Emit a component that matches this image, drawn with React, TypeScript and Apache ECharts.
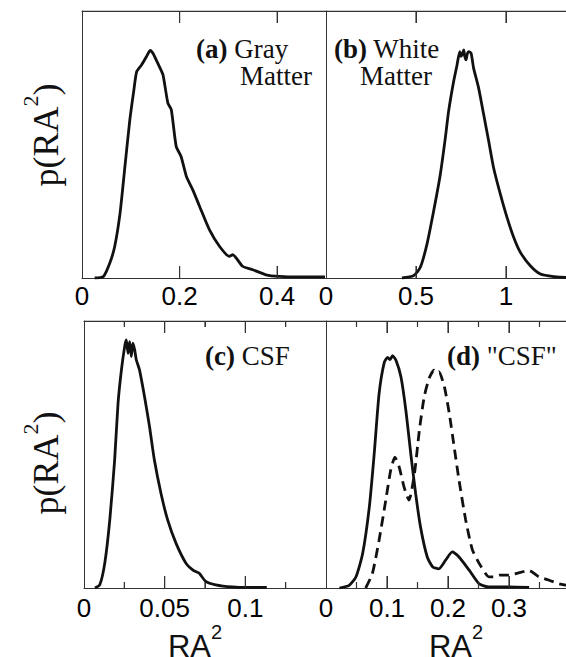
import React, { useEffect, useRef } from "react";
import * as echarts from "echarts";

// (a) Gray matter
const grayX = [0.026, 0.044, 0.057, 0.067, 0.078, 0.088, 0.098, 0.106, 0.112, 0.122, 0.132, 0.140, 0.146, 0.152, 0.159, 0.166, 0.176, 0.183, 0.193, 0.203, 0.214, 0.227, 0.241, 0.261, 0.282, 0.302, 0.309, 0.329, 0.350, 0.377, 0.404, 0.445, 0.498];
const grayY = [0, 0.006, 0.056, 0.118, 0.243, 0.418, 0.592, 0.70, 0.773, 0.798, 0.829, 0.852, 0.84, 0.817, 0.79, 0.761, 0.655, 0.630, 0.493, 0.455, 0.380, 0.330, 0.268, 0.181, 0.118, 0.081, 0.087, 0.044, 0.031, 0.012, 0.006, 0.004, 0.004];

// (b) White matter
const whiteX = [0.422, 0.487, 0.524, 0.561, 0.598, 0.635, 0.663, 0.681, 0.709, 0.728, 0.743, 0.750, 0.756, 0.765, 0.771, 0.778, 0.785, 0.793, 0.806, 0.820, 0.848, 0.876, 0.904, 0.931, 0.969, 1.006, 1.043, 1.080, 1.135, 1.191, 1.265, 1.335, 1.40];
const whiteY = [0, 0.009, 0.04, 0.127, 0.251, 0.388, 0.525, 0.624, 0.736, 0.798, 0.848, 0.83, 0.836, 0.854, 0.83, 0.817, 0.84, 0.848, 0.842, 0.786, 0.711, 0.612, 0.512, 0.413, 0.313, 0.226, 0.152, 0.096, 0.046, 0.015, 0.005, 0.002, 0.002];

// (c) CSF
const csfX = [0.0068, 0.0098, 0.0129, 0.016, 0.019, 0.0211, 0.0232, 0.0252, 0.0262, 0.0273, 0.0283, 0.0293, 0.0303, 0.0314, 0.0324, 0.0344, 0.0375, 0.0406, 0.0436, 0.0477, 0.0518, 0.057, 0.0631, 0.068, 0.0713, 0.0754, 0.0816, 0.0918, 0.102, 0.1133];
const csfY = [0, 0.012, 0.094, 0.256, 0.48, 0.692, 0.817, 0.904, 0.929, 0.879, 0.923, 0.867, 0.917, 0.892, 0.855, 0.817, 0.717, 0.605, 0.48, 0.355, 0.256, 0.168, 0.094, 0.065, 0.056, 0.025, 0.012, 0.004, 0.002, 0.002];

// (d) "CSF" solid
const dSolidX = [0.022, 0.038, 0.049, 0.060, 0.071, 0.079, 0.087, 0.0955, 0.101, 0.105, 0.109, 0.115, 0.123, 0.131, 0.139, 0.147, 0.155, 0.166, 0.175, 0.185, 0.196, 0.207, 0.218, 0.235, 0.251, 0.267, 0.295, 0.333];
const dSolidY = [0, 0.01, 0.041, 0.128, 0.303, 0.502, 0.727, 0.845, 0.864, 0.855, 0.87, 0.851, 0.789, 0.664, 0.502, 0.353, 0.228, 0.116, 0.079, 0.072, 0.104, 0.135, 0.116, 0.066, 0.016, 0.004, 0.004, 0.002];

// (d) "CSF" dashed
const dDashX = [0.065, 0.076, 0.087, 0.098, 0.106, 0.113, 0.120, 0.128, 0.136, 0.145, 0.153, 0.161, 0.169, 0.177, 0.181, 0.185, 0.194, 0.202, 0.210, 0.218, 0.229, 0.240, 0.254, 0.267, 0.278, 0.284, 0.300, 0.316, 0.333, 0.349, 0.366, 0.382, 0.40];
const dDashY = [0, 0.054, 0.179, 0.329, 0.44, 0.49, 0.453, 0.378, 0.329, 0.428, 0.59, 0.716, 0.785, 0.816, 0.805, 0.81, 0.754, 0.655, 0.53, 0.405, 0.255, 0.143, 0.081, 0.042, 0.042, 0.048, 0.048, 0.057, 0.065, 0.042, 0.029, 0.016, 0.008];

// axis scales per panel (a, b, c, d)
const axisMax = [0.5, 1.4, 0.15, 0.4];
const axisInterval = [0.2, 0.5, 0.05, 0.1];
const hasMinor = [false, false, true, true];
// tick marks on the frame (major / minor) per panel
const majorTicks = [[0.2, 0.4], [0.5, 1.0], [0.05, 0.1], [0.1, 0.2, 0.3]];
const minorTicks = [[], [], [0.025, 0.075, 0.125], [0.05, 0.15, 0.25, 0.35]];

const panelLabel = ["(a)", "(b)", "(c)", "(d)"];
const panelLine1 = [" Gray", " White", " CSF", ' "CSF"'];
const panelLine2 = ["Matter", "Matter", "", ""];

const pairs = (xs: number[], ys: number[]) => xs.map((x, i) => [x, ys[i]]);

const FRAME = "#333333";
const INK = "#111111";

export default function App() {
  const ref = useRef<HTMLDivElement>(null);
  useEffect(() => {
    if (!ref.current) return;
    const chart = echarts.init(ref.current, null, { renderer: "svg" });

    const grids = [
      { left: 82, top: 11, width: 244, height: 267 },
      { left: 326, top: 11, width: 252, height: 267 },
      { left: 84, top: 321, width: 242, height: 267 },
      { left: 326, top: 321, width: 244, height: 267 },
    ].map((g) => ({ ...g, outerBoundsMode: "none" }));
    const labelMargin = [5, 5, 7, 7];

    // x-axis titles "RA²" under panels c and d (padding nudges the centred name)
    const xNameRich = (padL: number, padR: number) => ({
      m: { fontSize: 31, fontFamily: "Liberation Sans", color: INK, verticalAlign: "bottom", padding: [0, 0, 0, padL] },
      s: { fontSize: 20, fontFamily: "Liberation Sans", color: INK, verticalAlign: "bottom", padding: [0, padR, 20, 0] },
    });
    const xNames = [null, null, xNameRich(0, 20), xNameRich(16, 0)];

    const bottomAxes = grids.map((_, i) => ({
      type: "value",
      gridIndex: i,
      position: "bottom",
      min: 0,
      max: axisMax[i],
      interval: axisInterval[i],
      axisLine: { show: true, onZero: false, lineStyle: { color: FRAME, width: 1 } },
      axisTick: { show: true, inside: true, length: 12, lineStyle: { color: FRAME, width: 1 } },
      minorTick: { show: hasMinor[i], splitNumber: 2, length: 6, lineStyle: { color: FRAME, width: 1 } },
      splitLine: { show: false },
      minorSplitLine: { show: false },
      axisLabel: {
        show: true,
        margin: labelMargin[i],
        fontSize: 26,
        fontFamily: "Liberation Sans",
        color: "#000000",
        showMaxLabel: false,
      },
      name: xNames[i] ? "{m|RA}{s|2}" : "",
      nameLocation: "middle",
      nameGap: 31,
      nameTextStyle: xNames[i] ? { rich: xNames[i], color: INK } : {},
    }));
    const topAxes = grids.map((_, i) => ({
      type: "value",
      gridIndex: i,
      position: "top",
      min: 0,
      max: axisMax[i],
      interval: axisInterval[i],
      axisLine: { show: true, onZero: false, lineStyle: { color: FRAME, width: 1 } },
      axisTick: { show: true, inside: true, length: 12, lineStyle: { color: FRAME, width: 1 } },
      minorTick: { show: hasMinor[i], splitNumber: 2, length: 6, lineStyle: { color: FRAME, width: 1 } },
      splitLine: { show: false },
      axisLabel: { show: false },
    }));

    // y-axis titles p(RA²) on panels a and c
    const yNameRich = (padStart: number, padEnd: number) => ({
      p: { fontSize: 36, fontFamily: "Liberation Serif", color: INK, verticalAlign: "bottom", padding: [0, 0, 0, padStart] },
      s: { fontSize: 22, fontFamily: "Liberation Serif", color: INK, verticalAlign: "bottom", padding: [0, 0, 23, 0] },
      q: { fontSize: 36, fontFamily: "Liberation Serif", color: INK, verticalAlign: "bottom", padding: [0, padEnd, 0, 0] },
    });
    const yNames = [yNameRich(19, 0), null, yNameRich(0, 17), null];
    const yGaps = [18, 0, 20, 0];

    const yAxes = grids.map((_, i) => ({
      type: "value",
      gridIndex: i,
      min: 0,
      max: 1,
      axisLine: { show: true, onZero: false, lineStyle: { color: FRAME, width: 1 } },
      axisTick: { show: false },
      axisLabel: { show: false },
      splitLine: { show: false },
      name: yNames[i] ? "{p|p(RA}{s|2}{q|)}" : "",
      nameLocation: "middle",
      nameRotate: 90,
      nameGap: yGaps[i],
      nameTextStyle: yNames[i] ? { rich: yNames[i], color: INK } : {},
    }));

    const lineSeries = (data: number[][], idx: number, dashed = false) => ({
      type: "line",
      xAxisIndex: idx,
      yAxisIndex: idx,
      data,
      showSymbol: false,
      symbol: "none",
      smooth: 0.2,
      lineStyle: { color: INK, width: 2.8, type: dashed ? [10, 6] : "solid" },
    });

    // frame top border and inward ticks, each a short segment through the panel's scales
    const MAJOR_LEN = 12 / 267;
    const MINOR_LEN = 6 / 267;
    const segSeries = (idx: number, a: number[], b: number[]) => ({
      type: "line",
      xAxisIndex: idx,
      yAxisIndex: idx,
      data: [a, b],
      showSymbol: false,
      symbol: "none",
      lineStyle: { color: FRAME, width: 1.2 },
    });
    const frameSeries: any[] = [];
    grids.forEach((_, i) => {
      frameSeries.push(segSeries(i, [0, 1], [axisMax[i], 1]));
      const add = (v: number, len: number) => {
        frameSeries.push(segSeries(i, [v, 0], [v, len]));
        frameSeries.push(segSeries(i, [v, 1], [v, 1 - len]));
      };
      majorTicks[i].forEach((v) => add(v, MAJOR_LEN));
      minorTicks[i].forEach((v) => add(v, MINOR_LEN));
    });

    // panel annotations
    const annPos = [
      { x1: 196, y1: 35, x2: 240, y2: 62 },
      { x1: 334, y1: 35, x2: 360, y2: 62 },
      { x1: 205, y1: 342, x2: 0, y2: 0 },
      { x1: 447, y1: 342, x2: 0, y2: 0 },
    ];
    const titleStyle = {
      fontFamily: "Liberation Serif",
      fontSize: 27,
      fontWeight: "normal",
      color: INK,
      rich: { b: { fontFamily: "Liberation Serif", fontSize: 27, fontWeight: "bold", color: INK } },
    };
    const titles: any[] = [];
    annPos.forEach((p, i) => {
      titles.push({ text: `{b|${panelLabel[i]}}${panelLine1[i]}`, left: p.x1, top: p.y1, padding: 0, textStyle: titleStyle });
      if (panelLine2[i]) {
        titles.push({ text: panelLine2[i], left: p.x2, top: p.y2, padding: 0, textStyle: titleStyle });
      }
    });

    chart.setOption({
      animation: false,
      title: titles,
      grid: grids,
      xAxis: [...bottomAxes, ...topAxes],
      yAxis: yAxes,
      series: [
        lineSeries(pairs(grayX, grayY), 0),
        lineSeries(pairs(whiteX, whiteY), 1),
        lineSeries(pairs(csfX, csfY), 2),
        lineSeries(pairs(dSolidX, dSolidY), 3),
        lineSeries(pairs(dDashX, dDashY), 3, true),
        ...frameSeries,
      ],
    });
    return () => chart.dispose();
  }, []);
  return <div ref={ref} style={{ position: "absolute", left: 0, top: 0, width: 566, height: 657 }} />;
}
